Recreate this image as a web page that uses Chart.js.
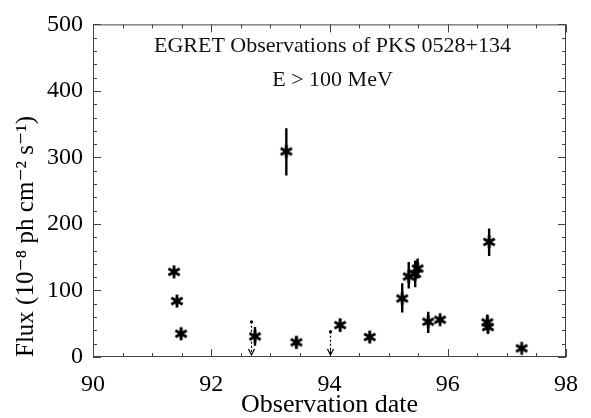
<!DOCTYPE html>
<html>
<head>
<meta charset="utf-8">
<script src="https://cdn.jsdelivr.net/npm/chart.js@4/dist/chart.umd.min.js"></script>
<style>
html,body{margin:0;padding:0;background:#fff;}
#wrap{width:591px;height:418px;}
</style>
</head>
<body>
<div id="wrap"><canvas id="c" width="591" height="418"></canvas></div>
<script>
// ---- data ----
const obsDate  = [91.37, 91.42, 91.49, 92.74, 93.27, 93.44, 94.18, 94.68, 95.23, 95.34, 95.45, 95.49, 95.67, 95.87, 96.67, 96.68, 96.70, 97.25];
const flux     = [128,   84,    35,    31,    309,   22,    48,    30,    88,    121,   125,   133,   53,    56,    52,    45,    173,   13];
const fluxErrLo= [5,     6,     9,     14,    36,    9,     10,    8,     21,    18,    20,    15,    17,    5,     12,    10,    21,    4];
const fluxErrHi= [5,     6,     9,     14,    35,    9,     10,    8,     23,    22,    20,    15,    15,    5,     12,    10,    20,    4];
const ulDate   = [92.67, 94.00];
const ulFlux   = [53,    38];
const xTicks   = [90, 92, 94, 96, 98];
const yTicks   = [0, 100, 200, 300, 400, 500];
const titleLines = ["EGRET Observations of PKS 0528+134", "E > 100 MeV"];
const xTitle = "Observation date";
const yTitle = "Flux (10\u207B\u2078 ph cm\u207B\u00B2 s\u207B\u00B9)";

const SERIF = "'Liberation Serif', 'DejaVu Serif', serif";

// asterisk marker
function makeStar(){
  const s = 16, c = document.createElement('canvas');
  c.width = s; c.height = s;
  const g = c.getContext('2d');
  g.strokeStyle = '#000'; g.lineWidth = 2.8; g.lineCap = 'butt';
  const r = 6.5, m = s/2;
  g.beginPath();
  for (const a of [90, 30, -30]) {
    const rad = a*Math.PI/180, dx = r*Math.cos(rad), dy = r*Math.sin(rad);
    g.moveTo(m-dx, m-dy); g.lineTo(m+dx, m+dy);
  }
  g.stroke();
  return c;
}
const star = makeStar();

const pts = obsDate.map((x,i)=>({x:x, y:flux[i]}));
const ulPts = ulDate.map((x,i)=>({x:x, y:ulFlux[i]}));

const decor = {
  id: 'decor',
  beforeDatasetsDraw(chart){
    const {ctx, chartArea:a, scales:{x, y}} = chart;
    ctx.save();
    ctx.strokeStyle = '#444'; ctx.lineWidth = 1;
    ctx.strokeRect(a.left+0.5, a.top+0.5, a.right-a.left-1, a.bottom-a.top-1);
    // inward ticks
    ctx.beginPath();
    for (let v = x.min; v <= x.max + 1e-9; v += 0.5) {
      const px = Math.round(x.getPixelForValue(v)) + 0.5;
      const len = (Math.abs(v - Math.round(v/2)*2) < 1e-6) ? 8 : 4;
      ctx.moveTo(px, a.bottom); ctx.lineTo(px, a.bottom - len);
      ctx.moveTo(px, a.top); ctx.lineTo(px, a.top + len);
    }
    for (let v = y.min; v <= y.max + 1e-9; v += 20) {
      const py = Math.round(y.getPixelForValue(v)) + 0.5;
      const len = (v % 100 === 0) ? 8 : 4;
      ctx.moveTo(a.left, py); ctx.lineTo(a.left + len, py);
      ctx.moveTo(a.right, py); ctx.lineTo(a.right - len, py);
    }
    ctx.stroke();
    // in-plot title
    ctx.fillStyle = '#111';
    ctx.textAlign = 'center'; ctx.textBaseline = 'middle';
    const cx = (a.left + a.right)/2 + 3;
    ctx.font = "22px " + SERIF;
    ctx.fillText(titleLines[0], cx, 46);
    ctx.fillText(titleLines[1], cx, 80);
    // error bars
    ctx.strokeStyle = '#000'; ctx.lineWidth = 2.4;
    ctx.beginPath();
    obsDate.forEach((d,i)=>{
      const px = x.getPixelForValue(d);
      ctx.moveTo(px, y.getPixelForValue(flux[i] + fluxErrHi[i]));
      ctx.lineTo(px, y.getPixelForValue(flux[i] - fluxErrLo[i]));
    });
    ctx.stroke();
    // upper limits (dotted line with arrow)
    ctx.lineWidth = 1.2;
    ulDate.forEach((d,i)=>{
      const px = Math.round(x.getPixelForValue(d)) + 0.5;
      const top = y.getPixelForValue(ulFlux[i]);
      const bot = y.getPixelForValue(3);
      ctx.setLineDash([2,2]);
      ctx.beginPath(); ctx.moveTo(px, top); ctx.lineTo(px, bot); ctx.stroke();
      ctx.setLineDash([]);
      ctx.beginPath(); ctx.arc(px, top, 1.6, 0, Math.PI*2); ctx.fillStyle = '#000'; ctx.fill();
      ctx.beginPath(); ctx.moveTo(px-3, bot-6); ctx.lineTo(px, bot); ctx.lineTo(px+3, bot-6); ctx.stroke();
    });
    ctx.restore();
  }
};

new Chart(document.getElementById('c'), {
  type: 'scatter',
  data: {
    datasets: [
      { label: 'Flux', data: pts, pointStyle: star, pointRadius: 6, showLine: false },
      { label: 'Upper limits', data: ulPts, pointRadius: 0, showLine: false }
    ]
  },
  options: {
    responsive: false,
    animation: false,
    events: [],
    layout: { padding: { top: 14, right: 21, left: 0, bottom: 0 } },
    plugins: { legend: { display: false }, tooltip: { enabled: false } },
    scales: {
      x: {
        type: 'linear', min: 90, max: 98,
        afterBuildTicks(s){ s.ticks = xTicks.map(v=>({value:v})); },
        afterFit(s){ s.height = 61; },
        grid: { display: false, drawTicks: false },
        border: { display: false },
        ticks: { color: '#000', padding: 13, font: { family: SERIF, size: 24 }, maxRotation: 0 },
        title: { display: true, text: xTitle, color: '#000', font: { family: SERIF, size: 26, lineHeight: 1 }, padding: 0 }
      },
      y: {
        type: 'linear', min: 0, max: 500,
        afterBuildTicks(s){ s.ticks = yTicks.map(v=>({value:v})); },
        afterFit(s){ s.width = 93; },
        grid: { display: false, drawTicks: false },
        border: { display: false },
        ticks: { color: '#000', padding: 10, font: { family: SERIF, size: 24 } },
        title: { display: true, align: 'start', text: yTitle, color: '#000', font: { family: SERIF, size: 25, lineHeight: 1 }, padding: { top: 14, bottom: 0 } }
      }
    }
  },
  plugins: [decor]
});
</script>
</body>
</html>
